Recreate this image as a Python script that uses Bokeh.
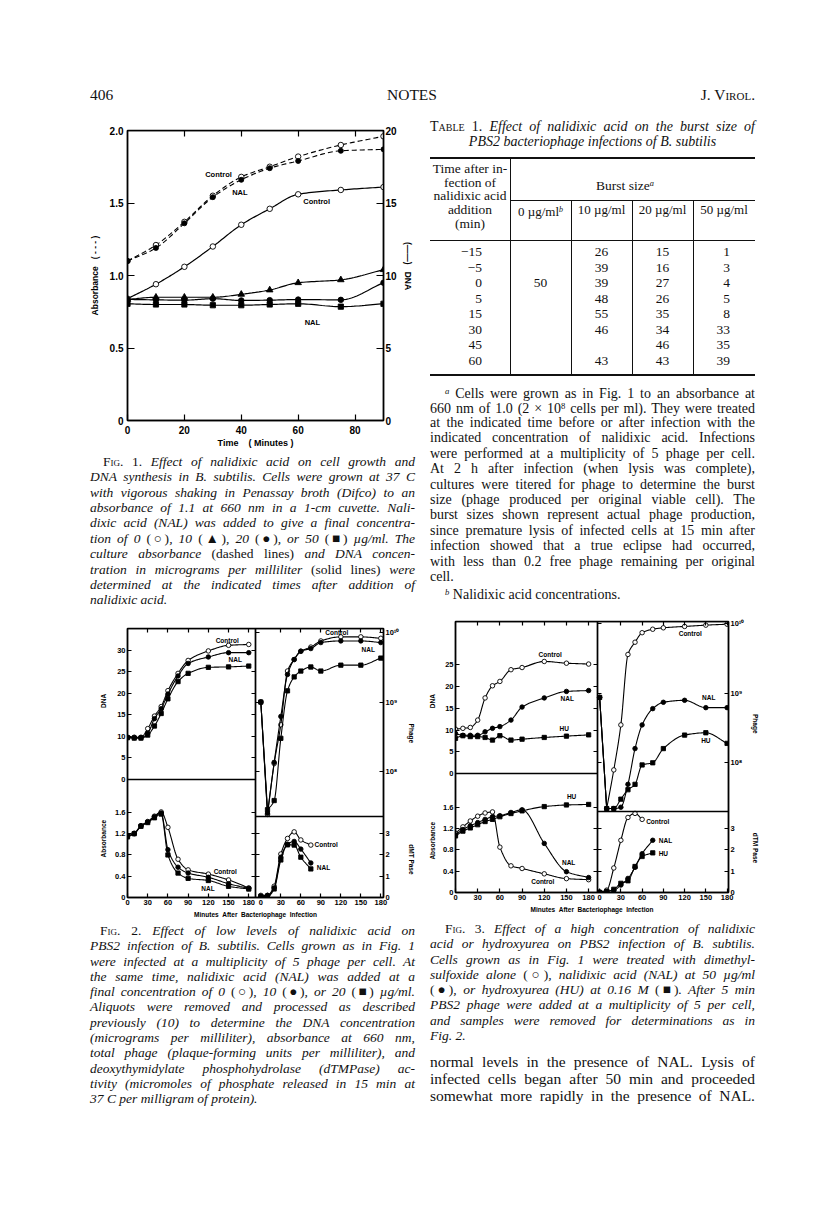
import math
import numpy as np
from bokeh.plotting import figure
from bokeh.models import (Range1d, LinearAxis, LogAxis, LogScale, FixedTicker,
                          CustomJSTickFormatter, Label, Div)
from bokeh.layouts import column, row
from bokeh.embed import file_html
from bokeh.resources import INLINE

# ======================= DATA =======================
# Table 1: burst sizes
tab_times = [-15, -5, 0, 5, 15, 30, 45, 60]
burst_0 = [None, None, 50, None, None, None, None, None]
burst_10 = [26, 39, 39, 48, 55, 46, None, 43]
burst_20 = [15, 16, 27, 26, 35, 34, 46, 43]
burst_50 = [1, 3, 4, 5, 8, 33, 35, 39]

# Fig 1 (time in min)
f1_t = [0, 10, 20, 30, 40, 50, 60, 75, 90]
f1_abs_control = [1.10, 1.21, 1.37, 1.55, 1.68, 1.75, 1.82, 1.90, 1.96]
f1_abs_nal = [1.10, 1.19, 1.36, 1.54, 1.66, 1.74, 1.79, 1.86, 1.87]
f1_dna_0 = [8.4, 9.4, 10.6, 12.0, 13.5, 14.6, 15.6, 15.9, 16.1]
f1_dna_10 = [8.35, 8.5, 8.5, 8.5, 8.7, 9.0, 9.5, 9.7, 10.4]
f1_dna_20 = [8.35, 8.32, 8.3, 8.4, 8.28, 8.3, 8.34, 8.32, 9.5]
f1_dna_50 = [8.05, 8.0, 8.0, 7.95, 7.95, 8.0, 8.05, 7.85, 8.05]

# Fig 2 (low NAL)
f2_t = [0, 10, 20, 30, 40, 50, 60, 75, 90, 120, 150, 180]
f2_dna_0 = [9.8, 9.8, 9.8, 11.8, 14.7, 16.9, 20.6, 24.6, 27.6, 29.8, 31.1, 31.3]
f2_dna_10 = [9.7, 9.7, 9.7, 10.7, 14.1, 16.4, 19.8, 24.0, 26.9, 28.4, 29.4, 29.4]
f2_dna_20 = [9.7, 9.6, 9.6, 10.3, 12.4, 15.3, 18.7, 22.7, 24.6, 26.0, 26.1, 26.3]
f2_abs_0 = [1.16, 1.21, 1.35, 1.43, 1.53, 1.61, 1.32, 0.72, 0.52, 0.44, 0.33, 0.18]
f2_abs_10 = [1.16, 1.20, 1.35, 1.42, 1.52, 1.59, 0.90, 0.57, 0.46, 0.38, 0.26, 0.17]
f2_abs_20 = [1.14, 1.20, 1.34, 1.41, 1.50, 1.57, 0.80, 0.46, 0.36, 0.32, 0.21, 0.16]
f2_phage_0 = [1.0e9, 2.4e7, 1.3e8, 4.7e8, 2.8e9, 4.1e9, 5.4e9, 6.2e9, 7.6e9, 8.7e9, 8.7e9, 8.3e9]
f2_phage_10 = [1.0e9, 2.5e7, 1.35e8, 6.2e8, 2.5e9, 4.1e9, 5.4e9, 5.9e9, 7.2e9, 7.6e9, 7.6e9, 7.2e9]
f2_phage_20 = [1.0e9, 2.8e7, 3.8e7, 3.0e8, 1.45e9, 2.3e9, 2.8e9, 3.2e9, 2.8e9, 3.4e9, 3.4e9, 4.3e9]
f2_dt_t = [0, 10, 20, 30, 40, 50, 60, 75]
f2_dt_0 = [0.1, 0.1, 0.53, 2.04, 2.77, 3.08, 2.70, 2.46]
f2_dt_10 = [0.05, 0.1, 0.45, 1.89, 2.50, 2.63, 2.27, 1.62]
f2_dt_20 = [0.05, 0.05, 0.40, 1.76, 2.47, 2.46, 1.89, 1.34]

# Fig 3 (high NAL / HU)
f3_t = [0, 10, 20, 30, 40, 50, 60, 75, 90, 120, 150, 180]
f3_dna_0 = [10.2, 10.4, 10.6, 12.3, 17.4, 20.2, 21.2, 23.9, 24.4, 25.8, 25.4, 25.2]
f3_dna_nal = [9.2, 8.8, 8.8, 8.8, 9.6, 10.4, 10.8, 12.3, 15.3, 17.4, 18.9, 19.1]
f3_dna_hu = [8.1, 8.7, 8.5, 8.5, 8.3, 7.7, 8.7, 7.7, 7.9, 8.3, 8.6, 8.9]
f3_abs_0 = [1.11, 1.23, 1.34, 1.43, 1.49, 1.51, 0.85, 0.50, 0.45, 0.35, 0.26, 0.24]
f3_abs_nal = [1.08, 1.18, 1.25, 1.31, 1.37, 1.42, 1.44, 1.50, 1.55, 0.92, 0.39, 0.28]
f3_abs_hu = [1.06, 1.15, 1.21, 1.27, 1.33, 1.37, 1.42, 1.48, 1.53, 1.61, 1.64, 1.65]
f3_phage_0 = [8.7e8, 2.2e7, 7.9e7, 3.5e8, 3.6e9, 5.4e9, 7.4e9, 8.3e9, 8.7e9, 9.1e9, 9.5e9, 9.8e9]
f3_phage_nal = [8.7e8, 2.2e7, 2.2e7, 2.3e7, 4.9e7, 1.6e8, 3.5e8, 6.0e8, 7.4e8, 7.9e8, 6.2e8, 6.2e8]
f3_phage_hu = [8.7e8, 2.2e7, 2.2e7, 3.0e7, 4.1e7, 4.9e7, 9.3e7, 1.0e8, 1.6e8, 2.5e8, 2.7e8, 1.9e8]
f3_dt_t_c = [0, 10, 20, 30, 40, 50, 60]
f3_dt_0 = [0.03, 0.11, 1.15, 2.45, 3.52, 3.71, 3.43]
f3_dt_t = [0, 10, 20, 30, 40, 50, 60, 75]
f3_dt_nal = [0.0, 0.05, 0.10, 0.35, 0.66, 1.18, 1.82, 2.45]
f3_dt_hu = [0.0, 0.05, 0.15, 0.43, 0.55, 1.22, 1.69, 1.86]

# ======================= HELPERS =======================
SERIF = "'Liberation Serif','Times New Roman',serif"
SANS = "Liberation Sans"
ONE_DEC = "return tick == 0 ? '0' : tick.toFixed(1);"
EMPTY = "return '';"
SUPS = "const s = {7:'\u2077', 8:'\u2078', 9:'\u2079', 10:'\u00b9\u2070'};"
NB = "\u00a0"
# Liberation Sans Bold advance widths (em) for the axis-title characters
WB = {'A': .722, 'b': .611, 's': .556, 'o': .611, 'r': .389, 'a': .556, 'n': .611,
      'c': .556, 'e': .556, 'D': .722, 'N': .722, 'P': .667, 'h': .611, 'g': .611,
      'd': .611, 'M': .833, 'T': .611, ' ': .278}


def pchip(x, y, n=16):
    x = np.asarray(x, float)
    y = np.asarray(y, float)
    h = np.diff(x)
    d = np.diff(y) / h
    m = np.zeros_like(y)
    m[0] = d[0]
    m[-1] = d[-1]
    for k in range(1, len(x) - 1):
        if d[k - 1] * d[k] > 0:
            w1 = 2 * h[k] + h[k - 1]
            w2 = h[k] + 2 * h[k - 1]
            m[k] = (w1 + w2) / (w1 / d[k - 1] + w2 / d[k])
    t = np.linspace(0, 1, n, endpoint=False)
    h00 = 2 * t**3 - 3 * t**2 + 1
    h10 = t**3 - 2 * t**2 + t
    h01 = -2 * t**3 + 3 * t**2
    h11 = t**3 - t**2
    xs, ys = [], []
    for k in range(len(h)):
        xs.extend(list(x[k] + t * h[k]))
        ys.extend(list(h00 * y[k] + h10 * h[k] * m[k] + h01 * y[k + 1] + h11 * h[k] * m[k + 1]))
    xs.append(float(x[-1]))
    ys.append(float(y[-1]))
    return xs, ys


def stretch(lo, hi, f0, f1):
    """Full-frame range for a sub-panel that covers fraction [f0, f1] of the frame."""
    span = (hi - lo) / (f1 - f0)
    start = lo - f0 * span
    return start, start + span


def lin(v, src, dst):
    return dst[0] + (v - src[0]) / (src[1] - src[0]) * (dst[1] - dst[0])


def merged_title(first, u1, second, u2, fh, size):
    """One axis title holding two words whose centres lie u1 / u2 px from the start of
    the reading direction; the title is centred on the frame, so pad with no-break spaces."""
    nb = WB[' '] * size
    w1 = sum(WB[c] for c in first) * size
    w2 = sum(WB[c] for c in second) * size
    gap = (u2 - w2 / 2) - (u1 + w1 / 2)
    ng = max(1, int(round(gap / nb)))
    s = u1 - w1 / 2
    e = s + w1 + ng * nb + w2
    uc = fh / 2
    pad_s = pad_e = 0
    if (s + e) / 2 < uc:
        pad_e = int(round((2 * uc - s - e) / nb))
    else:
        pad_s = int(round((s + e - 2 * uc) / nb))
    return NB * pad_s + first.replace(' ', NB) + NB * ng + second.replace(' ', NB) + NB * pad_e


def base_fig(w, h, bl, br, bt, bb, xr, yr):
    p = figure(width=w, height=h, x_range=Range1d(*xr), y_range=Range1d(*yr),
               x_axis_location=None, y_axis_location=None,
               toolbar_location=None, tools="", output_backend="svg",
               min_border_left=bl, min_border_right=br,
               min_border_top=bt, min_border_bottom=bb)
    p.xgrid.visible = False
    p.ygrid.visible = False
    p.outline_line_color = "black"
    p.outline_line_width = 1.5
    p.outline_line_alpha = 1.0
    p.background_fill_color = "white"
    p.border_fill_color = "white"
    return p


def mkaxis(p, side, ticks=(), fmt=None, log=False, xname="default", yname="default",
           fixed=None, bounds=None, size="7.5px", standoff=2, tick_in=4, label=None,
           label_size="6.5px", label_standoff=5, line=True):
    cls = LogAxis if log else LinearAxis
    kw = dict(ticker=FixedTicker(ticks=list(ticks)), x_range_name=xname, y_range_name=yname,
              major_tick_in=tick_in, major_tick_out=0, minor_tick_in=0, minor_tick_out=0,
              axis_line_color="black" if line else None, axis_line_width=1.4,
              major_tick_line_color="black", major_tick_line_width=1.2,
              major_label_standoff=standoff, major_label_text_font=SANS,
              major_label_text_font_style="bold", major_label_text_font_size=size,
              major_label_text_color="black")
    if fixed is not None:
        kw["fixed_location"] = fixed
    if bounds is not None:
        kw["bounds"] = bounds
    if isinstance(fmt, str):
        kw["formatter"] = CustomJSTickFormatter(code=fmt)
    elif fmt is not None:
        kw["formatter"] = fmt
    if label is not None:
        kw.update(axis_label=label, axis_label_text_font=SANS,
                  axis_label_text_font_style="bold", axis_label_text_font_size=label_size,
                  axis_label_standoff=label_standoff, axis_label_text_color="black")
    ax = cls(**kw)
    p.add_layout(ax, side)
    return ax


STY = {"open": ("circle", "white"), "dot": ("circle", "black"),
       "sq": ("square", "black"), "tri": ("triangle", "black")}


def series(p, t, v, kind, size=4.5, lw=1.1, dash="solid", log=False, sharp=False,
           xname="default", yname="default"):
    mk, fill = STY[kind]
    t = list(t)
    v = list(v)
    if log:
        lv = list(np.log10(v))
        if sharp:
            xs, ys = pchip(t[1:], lv[1:])
            xs = [t[0]] + xs
            ys = [lv[0]] + ys
        else:
            xs, ys = pchip(t, lv)
        ys = list(10 ** np.asarray(ys))
    else:
        xs, ys = pchip(t, v)
    p.line(xs, ys, line_color="black", line_width=lw, line_dash=dash,
           x_range_name=xname, y_range_name=yname)
    sz = size * (0.95 if mk == "square" else 1.0)
    p.scatter(t, v, marker=mk, size=sz, fill_color=fill, line_color="black",
              line_width=0.9, x_range_name=xname, y_range_name=yname)


def lab(p, x, y, text, size="6.5px", xname="default", yname="default"):
    p.add_layout(Label(x=x, y=y, text=text, text_font=SANS, text_font_style="bold",
                       text_font_size=size, text_align="center", text_baseline="middle",
                       x_range_name=xname, y_range_name=yname, text_color="black"))


def tl(html, left, yc, width, size, lh, align="justify", italic=False, extra=""):
    top = yc - lh / 2 - 1.5
    return (f'<div style="position:absolute;left:{left}px;top:{top:.1f}px;width:{width}px;'
            f'height:{lh}px;line-height:{lh}px;font-size:{size}px;text-align:{align};'
            f'text-align-last:{align};font-style:{"italic" if italic else "normal"};{extra}">'
            f'{html}</div>')


def rule(left, top, width, height):
    return (f'<div style="position:absolute;left:{left}px;top:{top}px;width:{width}px;'
            f'height:{height}px;background:#111;"></div>')


def box(inner, w, h):
    return Div(text=(f'<div style="position:relative;width:{w}px;height:{h}px;'
                     f'font-family:{SERIF};color:#111;">{inner}</div>'),
               width=w, height=h, margin=0)


def caption(lines, left, y0, step, width, size, indent, italic=True, last_left=True):
    out = []
    for i, s in enumerate(lines):
        ind = indent if i == 0 else 0
        align = "left" if (last_left and i == len(lines) - 1) else "justify"
        out.append(tl(s, left + ind, y0 + i * step, width - ind, size, step,
                      align=align, italic=italic))
    return "".join(out)


def up(s):
    return f'<span style="font-style:normal">{s}</span>'


def sc(s):
    return f'<span style="font-style:normal;font-variant:small-caps">{s}</span>'


def sup(s, italic=True):
    st = "italic" if italic else "normal"
    return f'<span style="font-size:0.62em;vertical-align:0.45em;font-style:{st}">{s}</span>'


XT = [0, 30, 60, 90, 120, 150, 180]
XTT = [30, 60, 90, 120, 150, 180]


def quad(W, H, bl, br, bt, bb, fw, fh, wl, hab, hdt, xl, xr, dna, ab, ph, dt,
         dna_ticks, titles):
    """Four panels sharing one frame: DNA (top-left), absorbance (bottom-left),
    phage (top-right, log scale) and dTMPase (bottom-right)."""
    fx, fa, fd = wl / fw, hab / fh, hdt / fh
    xL = stretch(xl[0], xl[1], 0, fx)
    xR = stretch(xr[0], xr[1], fx, 1)
    yD = stretch(dna[0], dna[1], fa, 1)
    yA = stretch(ab[0], ab[1], 0, fa)
    lP = stretch(math.log10(ph[0]), math.log10(ph[1]), fd, 1)
    yT = stretch(dt[0], dt[1], 0, fd)
    p = base_fig(W, H, bl, br, bt, bb, xL, yD)
    p.extra_x_ranges = {"r": Range1d(*xR)}
    p.extra_y_ranges = {"abs": Range1d(*yA), "ph": Range1d(10**lP[0], 10**lP[1]),
                        "dt": Range1d(*yT)}
    p.extra_y_scales = {"ph": LogScale()}
    abs_ticks = [0, 0.4, 0.8, 1.2, 1.6]
    ph_ticks = [1e8, 1e9, 1e10]
    dt_ticks = [0, 1, 2, 3]
    (ab_u, dn_u, dn_s), (dt_u, ph_u, ph_s, dt_name) = titles

    # left: DNA ticks (upper panel) and absorbance ticks (lower panel)
    left_fmt = CustomJSTickFormatter(
        args=dict(s0=yD[0], s1=yD[1], d0=yA[0], d1=yA[1]),
        code=("if (tick > -1e-6) return String(Math.round(tick));"
              "const a = d0 + (tick - s0) / (s1 - s0) * (d1 - d0);"
              "return Math.abs(a) < 1e-3 ? '0' : a.toFixed(1);"))
    mkaxis(p, "left", list(dna_ticks) + [lin(a, yA, yD) for a in abs_ticks], fmt=left_fmt,
           label=merged_title("Absorbance", ab_u, "DNA", dn_u, fh, 6.5), label_standoff=dn_s)
    # right: phage ticks (upper, log) and dTMPase ticks (lower); title reads downward
    right_fmt = CustomJSTickFormatter(
        args=dict(t0=yT[0], t1=yT[1], p0=lP[0], p1=lP[1], top=dt[1]),
        code=(SUPS + "if (tick <= top + 1e-6) return String(Math.round(tick));"
              "const e = Math.round(p0 + (tick - t0) / (t1 - t0) * (p1 - p0));"
              "return '10' + s[e];"))
    mkaxis(p, "right", dt_ticks + [lin(math.log10(v), lP, yT) for v in ph_ticks],
           fmt=right_fmt, yname="dt",
           label=merged_title("Phage", fh - ph_u, dt_name, fh - dt_u, fh, 6.5),
           label_standoff=ph_s)
    # bottom: minutes for both columns
    bot_fmt = CustomJSTickFormatter(
        args=dict(x0=xL[0], x1=xL[1], r0=xR[0], r1=xR[1], edge=xl[1]),
        code=("if (tick <= edge + 1e-6) return String(Math.round(tick));"
              "return String(Math.round(r0 + (tick - x0) / (x1 - x0) * (r1 - r0)));"))
    mkaxis(p, "below", XT + [lin(v, xR, xL) for v in XT], fmt=bot_fmt,
           label="Minutes" + NB * 2 + "After" + NB * 2 + "Bacteriophage" + NB * 2 + "Infection",
           label_standoff=3)
    # inner dividers with inward ticks
    mkaxis(p, "right", dna_ticks[1:], fmt=EMPTY, fixed=xl[1], bounds=dna)
    mkaxis(p, "right", abs_ticks[1:], fmt=EMPTY, yname="abs", fixed=xl[1], bounds=ab)
    mkaxis(p, "left", ph_ticks, fmt=EMPTY, log=True, xname="r", yname="ph", fixed=xr[0],
           bounds=ph)
    mkaxis(p, "left", dt_ticks[1:], fmt=EMPTY, xname="r", yname="dt", fixed=xr[0], bounds=dt)
    mkaxis(p, "below", [], fmt=EMPTY, fixed=dna[0], bounds=xl)
    mkaxis(p, "below", [], fmt=EMPTY, xname="r", yname="ph", fixed=ph[0], bounds=xr)
    # top inward ticks
    mkaxis(p, "above", XTT, fmt=EMPTY, fixed=dna[1], bounds=xl)
    mkaxis(p, "above", XTT, fmt=EMPTY, xname="r", yname="ph", fixed=ph[1], bounds=xr)
    return p


# ======================= HEADER =======================
hdr = (tl("406", 82, 88, 60, 15.5, 16, align="left") +
       tl("NOTES", 304, 88, 200, 15.5, 16, align="center") +
       tl('J. V<span style="font-variant:small-caps">irol</span>.', 547, 88, 200, 15.5, 16,
          align="right"))
header = box(hdr, 800, 102)

# ======================= FIG 1 =======================
f1 = base_fig(412, 342, 119, 33, 20, 32, (0, 90), (0, 2.0))
f1.extra_y_ranges = {"dna": Range1d(0, 20)}
mkaxis(f1, "left", [0, 0.5, 1.0, 1.5, 2.0], fmt=ONE_DEC, size="10px", standoff=4, tick_in=7,
       label="Absorbance" + NB * 3 + "(" + NB + "-" + NB + "-" + NB + "-" + NB + ")",
       label_size="8.5px", label_standoff=7)
mkaxis(f1, "right", [0, 5, 10, 15, 20], yname="dna", size="10px", standoff=2, tick_in=7,
       label="(\u2014\u2014)" + NB * 3 + "DNA" + NB * 8, label_size="8.5px",
       label_standoff=3)
mkaxis(f1, "below", [0, 20, 40, 60, 80], size="10px", standoff=5, tick_in=6,
       label="Time" + NB * 4 + "(" + NB + "Minutes" + NB + ")", label_size="9px",
       label_standoff=1)
mkaxis(f1, "above", [20, 40, 60, 80], fmt=EMPTY, fixed=2.0, tick_in=6)
series(f1, f1_t, f1_abs_control, "open", size=5.5, lw=1.1, dash="5 3")
series(f1, f1_t, f1_abs_nal, "dot", size=5.0, lw=1.1, dash="5 3")
series(f1, f1_t, f1_dna_0, "open", size=5.5, lw=1.2, yname="dna")
series(f1, f1_t, f1_dna_10, "tri", size=6.5, lw=1.2, yname="dna")
series(f1, f1_t, f1_dna_20, "dot", size=5.5, lw=1.2, yname="dna")
series(f1, f1_t, f1_dna_50, "sq", size=5.5, lw=1.2, yname="dna")
lab(f1, 32, 1.70, "Control", size="7.5px")
lab(f1, 39.5, 1.57, "NAL", size="7.5px")
lab(f1, 66.5, 1.51, "Control", size="7.5px")
lab(f1, 65, 0.675, "NAL", size="7.5px")

cap1_lines = [
    sc("Fig. 1.") + " Effect of nalidixic acid on cell growth and",
    "DNA synthesis in B. subtilis. Cells were grown at 37 C",
    "with vigorous shaking in Penassay broth (Difco) to an",
    "absorbance of 1.1 at 660 nm in a 1-cm cuvette. Nali-",
    "dixic acid (NAL) was added to give a final concentra-",
    "tion of 0 " + up("(\u25cb)") + ", 10 " + up("(\u25b2)") + ", 20 " + up("(\u25cf)") +
    ", or 50 " + up("(\u25a0)") + " \u00b5g/ml. The",
    "culture absorbance " + up("(dashed lines)") + " and DNA concen-",
    "tration in micrograms per milliliter " + up("(solid lines)") + " were",
    "determined at the indicated times after addition of",
    "nalidixic acid.",
]
cap1 = box(caption(cap1_lines, 82, 11, 15.4, 325, 13.5, 13), 412, 163)

# ======================= FIG 2 =======================
f2 = quad(412, 309, 111, 37, 13, 27, 264, 269, 132, 118, 81,
          (0, 190), (-8, 184), (0, 35), (0, 2.22), (10**7.35, 10**10.06), (0, 3.8),
          [0, 5, 10, 15, 20, 25, 30],
          [(59, 197, 5), (38, 164, 6, "dMT Pase")])
series(f2, f2_t, f2_dna_0, "open")
series(f2, f2_t, f2_dna_10, "dot")
series(f2, f2_t, f2_dna_20, "sq")
series(f2, f2_t, f2_abs_0, "open", yname="abs")
series(f2, f2_t, f2_abs_10, "dot", yname="abs")
series(f2, f2_t, f2_abs_20, "sq", yname="abs")
series(f2, f2_t, f2_phage_0, "open", log=True, sharp=True, xname="r", yname="ph")
series(f2, f2_t, f2_phage_10, "dot", log=True, sharp=True, xname="r", yname="ph")
series(f2, f2_t, f2_phage_20, "sq", log=True, sharp=True, xname="r", yname="ph")
series(f2, f2_dt_t, f2_dt_0, "open", xname="r", yname="dt")
series(f2, f2_dt_t, f2_dt_10, "dot", xname="r", yname="dt")
series(f2, f2_dt_t, f2_dt_20, "sq", xname="r", yname="dt")
lab(f2, 148, 32.2, "Control")
lab(f2, 160, 27.9, "NAL")
lab(f2, 145, 0.48, "Control", yname="abs")
lab(f2, 119.5, 0.17, "NAL", yname="abs")
lab(f2, 114, 10**10.0, "Control", xname="r", yname="ph")
lab(f2, 161, 10**9.76, "NAL", xname="r", yname="ph")
lab(f2, 98, 2.49, "Control", xname="r", yname="dt")
lab(f2, 94, 1.41, "NAL", xname="r", yname="dt")

cap2_lines = [
    sc("Fig. 2.") + " Effect of low levels of nalidixic acid on",
    "PBS2 infection of B. subtilis. Cells grown as in Fig. 1",
    "were infected at a multiplicity of 5 phage per cell. At",
    "the same time, nalidixic acid (NAL) was added at a",
    "final concentration of 0 " + up("(\u25cb)") + ", 10 " + up("(\u25cf)") + ", or 20 " +
    up("(\u25a0)") + " \u00b5g/ml.",
    "Aliquots were removed and processed as described",
    "previously (10) to determine the DNA concentration",
    "(micrograms per milliliter), absorbance at 660 nm,",
    "total phage (plaque-forming units per milliliter), and",
    "deoxythymidylate phosphohydrolase (dTMPase) ac-",
    "tivity (micromoles of phosphate released in 15 min at",
    "37 C per milligram of protein).",
]
cap2 = box(caption(cap2_lines, 82, 8, 15.3, 325, 13.5, 10), 412, 279)

# ======================= TABLE 1 (right column) =======================
t = []
t.append(tl(sc("Table 1.") + " Effect of nalidixic acid on the burst size of", 10, 18, 325,
            14, 15, italic=True))
t.append(tl("PBS2 bacteriophage infections of B. subtilis", 10, 33, 325, 14, 15,
            align="center", italic=True))
t.append(rule(10, 47, 325, 2.2))
t.append(rule(89.5, 48, 1.4, 217))
t.append(rule(90, 89.5, 245, 1.4))
for xv in (150.5, 211.5, 272.5):
    t.append(rule(xv, 90, 1.4, 175))
t.append(rule(10, 129.5, 325, 1.5))
t.append(rule(10, 264, 325, 2.2))
for s, yc in zip(["Time after in-", "fection of", "nalidixic acid", "addition", "(min)"],
                 [60, 74, 87, 101.5, 115]):
    t.append(tl(s, 10, yc, 80, 13.5, 14, align="center"))
t.append(tl("Burst size" + sup("a"), 90, 75, 230, 13.5, 14, align="center"))
for s, l, w in [("0 \u00b5g/ml" + sup("b"), 90, 61), ("10 \u00b5g/ml", 151, 61),
                ("20 \u00b5g/ml", 212, 61), ("50 \u00b5g/ml", 273, 62)]:
    t.append(tl(s, l, 101.5, w, 13, 14, align="center"))
for i, tm in enumerate(tab_times):
    yc = 143.3 + 15.5 * i
    t.append(tl(str(tm).replace("-", "\u2212"), 10, yc, 52, 13.5, 15, align="right"))
    for vals, l, w, al in [(burst_0, 90, 61, "center"), (burst_10, 151, 61, "center"),
                           (burst_20, 212, 61, "center"), (burst_50, 273, 37, "right")]:
        if vals[i] is not None:
            t.append(tl(str(vals[i]), l, yc, w, 13.5, 15, align=al))
foot = [
    sup("a") + " Cells were grown as in Fig. 1 to an absorbance at",
    "660 nm of 1.0 (2 \u00d7 10" + sup("8", italic=False) + " cells per ml). They were treated",
    "at the indicated time before or after infection with the",
    "indicated concentration of nalidixic acid. Infections",
    "were performed at a multiplicity of 5 phage per cell.",
    "At 2 h after infection (when lysis was complete),",
    "cultures were titered for phage to determine the burst",
    "size (phage produced per original viable cell). The",
    "burst sizes shown represent actual phage production,",
    "since premature lysis of infected cells at 15 min after",
    "infection showed that a true eclipse had occurred,",
    "with less than 0.2 free phage remaining per original",
    "cell.",
]
t.append(caption(foot, 10, 283, 15.45, 325, 14, 15, italic=False))
t.append(tl(sup("b") + " Nalidixic acid concentrations.", 25, 283 + 15.45 * 13, 310, 14, 15.45,
            align="left"))
table = box("".join(t), 388, 502)

# ======================= FIG 3 =======================
f3 = quad(388, 309, 35, 80, 9, 29, 273, 271, 142, 119, 81,
          (0, 192), (-3, 182), (0, 35), (0, 2.23), (10**7.30, 10**10.03), (0, 3.8),
          [0, 5, 10, 15, 20, 25],
          [(52, 192, 4), (45, 169, 5, "dTM Pase")])
series(f3, f3_t, f3_dna_0, "open")
series(f3, f3_t, f3_dna_nal, "dot")
series(f3, f3_t, f3_dna_hu, "sq")
series(f3, f3_t, f3_abs_0, "open", yname="abs")
series(f3, f3_t, f3_abs_nal, "dot", yname="abs")
series(f3, f3_t, f3_abs_hu, "sq", yname="abs")
series(f3, f3_t, f3_phage_0, "open", log=True, sharp=True, xname="r", yname="ph")
series(f3, f3_t, f3_phage_nal, "dot", log=True, sharp=True, xname="r", yname="ph")
series(f3, f3_t, f3_phage_hu, "sq", log=True, sharp=True, xname="r", yname="ph")
series(f3, f3_dt_t_c, f3_dt_0, "open", xname="r", yname="dt")
series(f3, f3_dt_t, f3_dt_nal, "dot", xname="r", yname="dt")
series(f3, f3_dt_t, f3_dt_hu, "sq", xname="r", yname="dt")
lab(f3, 128, 27.4, "Control")
lab(f3, 151, 17.3, "NAL")
lab(f3, 147, 10.4, "HU")
lab(f3, 157, 1.80, "HU", yname="abs")
lab(f3, 153, 0.56, "NAL", yname="abs")
lab(f3, 118, 0.21, "Control", yname="abs")
lab(f3, 128, 10**9.86, "Control", xname="r", yname="ph")
lab(f3, 154, 10**8.94, "NAL", xname="r", yname="ph")
lab(f3, 150, 10**8.32, "HU", xname="r", yname="ph")
lab(f3, 82, 3.35, "Control", xname="r", yname="dt")
lab(f3, 93, 2.44, "NAL", xname="r", yname="dt")
lab(f3, 90, 1.83, "HU", xname="r", yname="dt")

cap3_lines = [
    sc("Fig. 3.") + " Effect of a high concentration of nalidixic",
    "acid or hydroxyurea on PBS2 infection of B. subtilis.",
    "Cells grown as in Fig. 1 were treated with dimethyl-",
    "sulfoxide alone " + up("(\u25cb)") + ", nalidixic acid (NAL) at 50 \u00b5g/ml",
    up("(\u25cf)") + ", or hydroxyurea (HU) at 0.16 M " + up("(\u25a0)") + ". After 5 min",
    "PBS2 phage were added at a multiplicity of 5 per cell,",
    "and samples were removed for determinations as in",
    "Fig. 2.",
]
body = [
    "normal levels in the presence of NAL. Lysis of",
    "infected cells began after 50 min and proceeded",
    "somewhat more rapidly in the presence of NAL.",
]
cap3_html = caption(cap3_lines, 10, 9, 15.3, 325, 13.5, 15)
cap3_html += caption(body, 10, 142, 17, 325, 15.5, 0, italic=False, last_left=False)
cap3 = box(cap3_html, 388, 282)

# ======================= LAYOUT =======================
left_col = column(f1, cap1, f2, cap2)
right_col = column(table, f3, cap3)
root = column(header, row(left_col, right_col), margin=(8, 0, 0, 8))

open("out.html", "w").write(file_html(root, INLINE, title="J. Virol. 406 - Notes"))
